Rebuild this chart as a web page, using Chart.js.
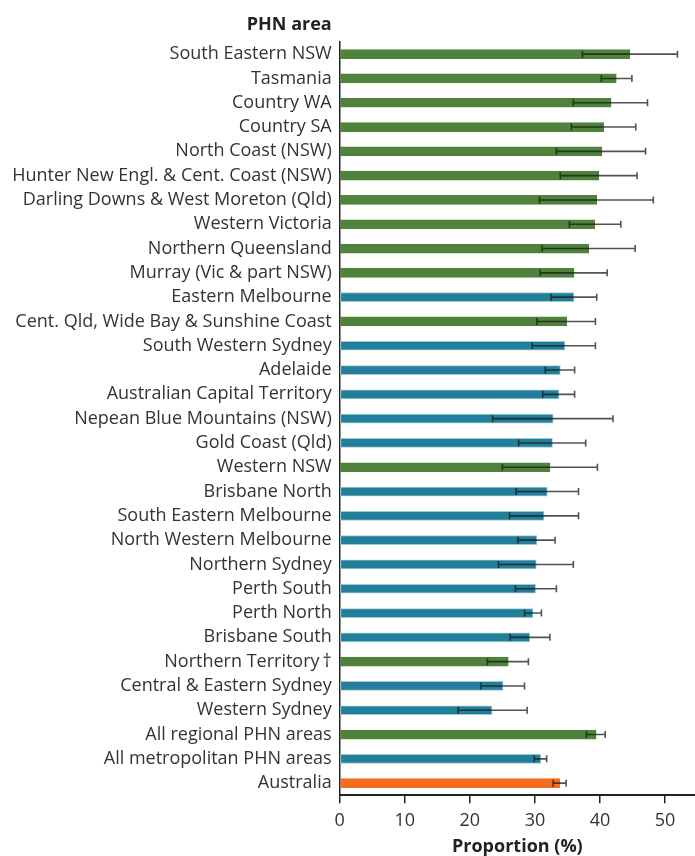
<!DOCTYPE html>
<html>
<head>
<meta charset="utf-8">
<script src="https://cdn.jsdelivr.net/npm/chart.js@4.4.1/dist/chart.umd.min.js"></script>
<style>
html,body{margin:0;padding:0;background:#fff;}
#wrap{width:695px;height:856px;position:relative;}
</style>
</head>
<body>
<div id="wrap"><canvas id="c" width="695" height="856"></canvas></div>
<script>
const categories = [
  "South Eastern NSW","Tasmania","Country WA","Country SA","North Coast (NSW)",
  "Hunter New Engl. & Cent. Coast (NSW)","Darling Downs & West Moreton (Qld)","Western Victoria",
  "Northern Queensland","Murray (Vic & part NSW)","Eastern Melbourne","Cent. Qld, Wide Bay & Sunshine Coast",
  "South Western Sydney","Adelaide","Australian Capital Territory","Nepean Blue Mountains (NSW)",
  "Gold Coast (Qld)","Western NSW","Brisbane North","South Eastern Melbourne","North Western Melbourne",
  "Northern Sydney","Perth South","Perth North","Brisbane South","Northern Territory\u2009\u2020",
  "Central & Eastern Sydney","Western Sydney","All regional PHN areas","All metropolitan PHN areas","Australia"
];
const areaType = [
  "regional","regional","regional","regional","regional",
  "regional","regional","regional",
  "regional","regional","metro","regional",
  "metro","metro","metro","metro",
  "metro","regional","metro","metro","metro",
  "metro","metro","metro","metro","regional",
  "metro","metro","regional","metro","national"
];
const proportion = [
  44.6,42.5,41.7,40.6,40.3,
  39.8,39.5,39.2,
  38.3,36.0,36.0,34.9,
  34.6,33.9,33.7,32.8,
  32.7,32.3,31.9,31.4,30.3,
  30.2,30.1,29.7,29.2,25.9,
  25.1,23.4,39.4,30.9,33.8
];
const ciLower = [
  37.3,40.2,35.9,35.6,33.3,
  33.9,30.7,35.3,
  31.1,30.8,32.5,30.3,
  29.6,31.6,31.2,23.5,
  27.5,25.0,27.1,26.1,27.4,
  24.4,27.0,28.4,26.2,22.7,
  21.7,18.2,37.9,29.9,32.8
];
const ciUpper = [
  51.9,44.9,47.3,45.5,47.0,
  45.7,48.2,43.2,
  45.4,41.1,39.5,39.3,
  39.3,36.1,36.1,42.0,
  37.8,39.6,36.7,36.7,33.1,
  35.9,33.3,31.0,32.3,29.0,
  28.4,28.8,40.8,31.8,34.8
];
const xTicks = [0,10,20,30,40,50];

const colorMap = {regional:"#4F823A", metro:"#237E99", national:"#F26C22"};
const borderMap = {regional:"#4F823A", metro:"#9CCAD8", national:"#F26C22"};

const FONT = "'Open Sans', 'Noto Sans', sans-serif";

const errorBars = {
  id: 'errorBars',
  afterDatasetsDraw(chart) {
    const meta = chart.getDatasetMeta(0);
    const xs = chart.scales.x;
    const ctx = chart.ctx;
    ctx.save();
    ctx.strokeStyle = 'rgba(25,25,25,0.75)';
    ctx.lineWidth = 1.6;
    meta.data.forEach((bar, i) => {
      const y = bar.y;
      const x1 = xs.getPixelForValue(ciLower[i]);
      const x2 = xs.getPixelForValue(ciUpper[i]);
      ctx.beginPath();
      ctx.moveTo(x1, y); ctx.lineTo(x2, y);
      ctx.moveTo(x1, y - 3.5); ctx.lineTo(x1, y + 3.5);
      ctx.moveTo(x2, y - 3.5); ctx.lineTo(x2, y + 3.5);
      ctx.stroke();
    });
    ctx.restore();
  }
};

const areaTitle = {
  id: 'areaTitle',
  afterDraw(chart) {
    const ctx = chart.ctx;
    const ys = chart.scales.y;
    ctx.save();
    ctx.font = "bold 18px " + FONT;
    ctx.fillStyle = '#222';
    ctx.textAlign = 'right';
    ctx.textBaseline = 'middle';
    ctx.fillText('PHN area', ys.right - 8, 25);
    ctx.restore();
  }
};

new Chart(document.getElementById('c'), {
  type: 'bar',
  data: {
    labels: categories,
    datasets: [{
      data: proportion,
      backgroundColor: areaType.map(t => colorMap[t]),
      borderColor: areaType.map(t => borderMap[t]),
      borderWidth: 1,
      borderSkipped: false,
      barThickness: 9
    }]
  },
  options: {
    indexAxis: 'y',
    responsive: false,
    animation: false,
    devicePixelRatio: 1,
    layout: {padding: {top: 42, right: 0, bottom: 0, left: 0}},
    plugins: {legend: {display: false}, tooltip: {enabled: false}, title: {display: false}},
    scales: {
      x: {
        min: 0, max: 54.6,
        afterBuildTicks(scale) { scale.ticks = xTicks.map(v => ({value: v})); },
        afterFit(scale) { scale.height = 856 - 42 - 753.3; },
        grid: {display: true, drawOnChartArea: false, drawTicks: true, tickLength: 8, color: '#222', lineWidth: 1.5},
        border: {display: true, color: '#222', width: 2},
        ticks: {font: {family: FONT, size: 18}, color: '#333', padding: 7, maxRotation: 0},
        title: {display: true, text: 'Proportion (%)', font: {family: FONT, size: 18, weight: 'bold', lineHeight: 1}, color: '#222', padding: {top: 0, bottom: 0}}
      },
      y: {
        afterFit(scale) { scale.width = 339.7; },
        grid: {display: false},
        border: {display: true, color: '#222', width: 1.5},
        ticks: {font: {family: FONT, size: 18}, color: '#333', padding: 0, autoSkip: false}
      }
    }
  },
  plugins: [errorBars, areaTitle]
});
</script>
</body>
</html>
